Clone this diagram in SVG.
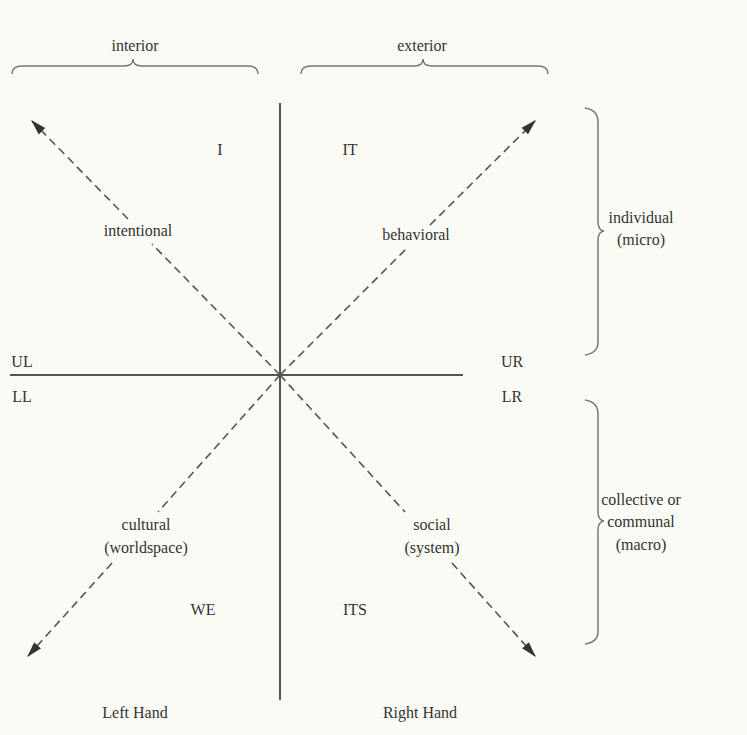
<svg xmlns="http://www.w3.org/2000/svg" width="747" height="735" viewBox="0 0 747 735">
<style>
text{font-family:'Liberation Serif','Times New Roman',serif;font-size:16px;fill:#333;text-anchor:middle}
.ax{stroke:#555;stroke-width:2;fill:none}
.ds{stroke:#555;stroke-width:1.6;stroke-dasharray:8,5;fill:none}
.br{stroke:#777;stroke-width:1.5;fill:none}
</style>
<defs>
<marker id="ah" viewBox="0 0 12 10" refX="11" refY="5" markerWidth="16" markerHeight="13" markerUnits="userSpaceOnUse" orient="auto">
<path d="M0,1.5 L12,5 L0,8.5 z" fill="#333"/>
</marker>
</defs>
<rect width="747" height="735" fill="#fbfbf6"/>
<g id="connectors">
<line class="ax" x1="280" y1="103" x2="280" y2="700"/>
<line class="ax" x1="10" y1="375" x2="463" y2="375"/>
<path class="ds" d="M280,375 L152,244"/>
<path class="ds" d="M128,219 L32,121" marker-end="url(#ah)"/>
<path class="ds" d="M280,375 L408,247"/>
<path class="ds" d="M430,225 L535,121" marker-end="url(#ah)"/>
<path class="ds" d="M280,375 L158,512"/>
<path class="ds" d="M112,563 L28,656" marker-end="url(#ah)"/>
<path class="ds" d="M280,375 L405,512"/>
<path class="ds" d="M452,563 L535,656" marker-end="url(#ah)"/>
</g>
<g id="brace-interior">
<path class="br" d="M12,74 Q12,66 22,66 L124,66 Q133,66 133,59 Q133,66 142,66 L248,66 Q258,66 258,74"/>
<text x="135" y="51" font-family="Liberation Serif, serif">interior</text>
</g>
<g id="brace-exterior">
<path class="br" d="M301,74 Q301,66 311,66 L414,66 Q423,66 423,59 Q423,66 432,66 L538,66 Q548,66 548,74"/>
<text x="422" y="51">exterior</text>
</g>
<g id="brace-individual">
<path class="br" d="M585,108 Q598,110 598,122 L598,222 Q598,230 604,231 Q598,232 598,240 L598,342 Q598,353 585,355"/>
<text x="641" y="223">individual</text>
<text x="641" y="245">(micro)</text>
</g>
<g id="brace-collective">
<path class="br" d="M585,400 Q598,402 598,414 L598,512 Q598,520 604,521 Q598,522 598,530 L598,632 Q598,642 585,644"/>
<text x="641" y="505">collective or</text>
<text x="641" y="527">communal</text>
<text x="641" y="550">(macro)</text>
</g>
<g id="UL"><text x="220" y="155">I</text><text x="138" y="236">intentional</text><text x="22" y="367">UL</text></g>
<g id="UR"><text x="350" y="155">IT</text><text x="416" y="240">behavioral</text><text x="512" y="367">UR</text></g>
<g id="LL"><text x="146" y="530">cultural</text><text x="146" y="553">(worldspace)</text><text x="22" y="402">LL</text><text x="203" y="615">WE</text></g>
<g id="LR"><text x="432" y="530">social</text><text x="432" y="553">(system)</text><text x="512" y="402">LR</text><text x="355" y="615">ITS</text></g>
<g id="hands"><text x="135" y="718">Left Hand</text><text x="420" y="718">Right Hand</text></g>
</svg>
